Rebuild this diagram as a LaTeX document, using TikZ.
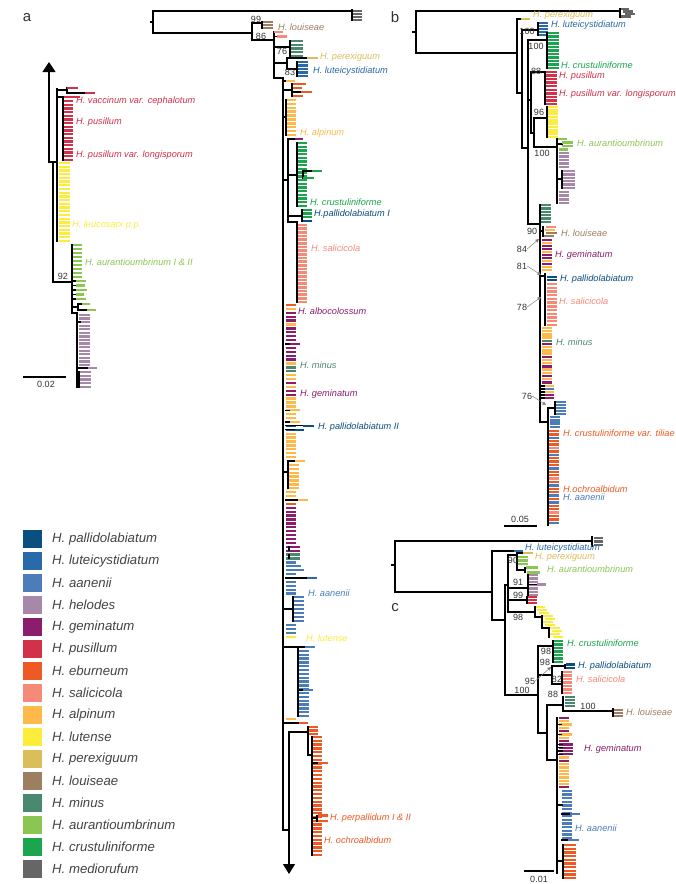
\documentclass[tikz,border=0pt]{standalone}
\usepackage{fontspec}
\setmainfont{Liberation Sans}
\usetikzlibrary{arrows.meta}
\definecolor{cpa}{HTML}{0B4F80}
\definecolor{clu}{HTML}{2A6AA8}
\definecolor{caa}{HTML}{4C7DB8}
\definecolor{che}{HTML}{A888A8}
\definecolor{cge}{HTML}{8A1E6C}
\definecolor{cpu}{HTML}{D3304A}
\definecolor{ceb}{HTML}{EE5A24}
\definecolor{csa}{HTML}{F58A78}
\definecolor{cal}{HTML}{FDB94A}
\definecolor{clt}{HTML}{FCEC3C}
\definecolor{cpe}{HTML}{DABE5C}
\definecolor{clo}{HTML}{9C7F60}
\definecolor{cmi}{HTML}{4A8870}
\definecolor{cau}{HTML}{8CC652}
\definecolor{ccr}{HTML}{1AA54E}
\definecolor{cme}{HTML}{666666}
\definecolor{cno}{HTML}{FFFFFF}
\definecolor{supc}{HTML}{333333}
\definecolor{legc}{HTML}{444444}
\newcommand\stk[6]{\foreach \k in {1,...,#6}{\pgfmathsetmacro\yy{#4+(\k-1)*(#5-#4)/(#6-1)}\draw[tip,draw=c#1] (#2,\yy) -- (#3,\yy);}}
\newcommand\mix[5]{\foreach \c [count=\k from 0] in {#5}{\pgfmathsetmacro\yy{#3+\k*#4}\draw[tip,draw=c\c] (#1,\yy) -- (#2,\yy);}}
\newcommand\tb[4]{\draw[tip,draw=c#1] (#2,#4) -- (#3,#4);}
\tikzset{
  br/.style={line width=1.1pt,black,line cap=rect,line join=miter},
  tip/.style={line width=2.35pt},
  lab/.style={font=\fontsize{9.2}{10}\selectfont\itshape,anchor=west,inner sep=0pt},
  sup/.style={font=\fontsize{9}{10}\selectfont,text=supc,inner sep=0pt},
  leg/.style={font=\fontsize{13.2}{15}\selectfont\itshape,anchor=west,text=legc,inner sep=0pt},
  plab/.style={font=\fontsize{15}{16}\selectfont,text=supc,inner sep=0pt},
  garr/.style={line width=0.5pt,gray,-{Triangle[length=3.5pt,width=3.5pt]}}
}
\begin{document}
\begin{tikzpicture}[x=1pt,y=-1pt]
\useasboundingbox (0,0) rectangle (676,884);
\fill[white] (0,0) rectangle (676,884);

% ================= panel a : main tree =================
\node[plab] (pa) at (27,18) {a};
\draw[br] (151,22) -- (153,22);
\draw[br] (352,11) -- (153,11) -- (153,33) -- (252,33);
\draw[br] (352,9.5) -- (352,20.5);
\stk{me}{353}{362}{11}{20}{4}
\draw[br] (252,23) -- (252,40);
\draw[br] (252,23) -- (262,23);
\draw[br] (262,21.5) -- (262,28.5);
\stk{lo}{263}{273}{22}{28}{3}
\draw[br] (252,40) -- (274,40);
\draw[br] (274,32) -- (274,78);
\tb{sa}{274}{283}{32}
\draw[br] (274,36.5) -- (277,36.5); \tb{sa}{277}{287}{36.5}
\draw[br] (274,47) -- (290,47);
\draw[br] (290,41) -- (290,56);
\stk{mi}{291}{303}{41}{56}{5}
\draw[br] (274,63) -- (287,63);
\draw[br] (287,58) -- (287,69);
\draw[br] (287,58) -- (307,58); \tb{pe}{307}{318}{58}
\draw[br] (287,69) -- (297,69);
\draw[br] (297,62) -- (297,76);
\stk{lu}{298}{308}{62}{76}{5}
\draw[br] (274,78) -- (283,78) -- (283,830) -- (289,830);
% alpinum / eburneum top
\draw[br] (283,81) -- (286,81); \tb{al}{286}{295}{81}
\draw[br] (283,90) -- (292,90);
\draw[br] (292,84) -- (292,96);
\tb{eb}{293}{306}{84} \tb{eb}{293}{302}{88}
\draw[br] (292,92) -- (301,92); \tb{eb}{301}{312}{92}
\tb{eb}{293}{303}{96}
\draw[br] (283,117) -- (286,117);
\draw[br] (286,100) -- (286,135);
\stk{al}{287}{296}{100}{135}{10}
% crustuliniforme clade
\draw[br] (283,180) -- (288,180);
\draw[br] (288,139) -- (288,222);
\draw[br] (288,139) -- (295,139); \tb{ge}{295}{303}{139}
\draw[br] (288,175) -- (297,175);
\draw[br] (297,143) -- (297,206);
\stk{cr}{298}{307}{143}{206}{18}
\draw[br] (303,171) -- (303,178);
\draw[br] (303,171) -- (312,171); \tb{cr}{312}{322}{171}
\tb{cr}{303}{314}{178}
\draw[br] (288,216) -- (302,216);
\draw[br] (302,210) -- (302,221);
\stk{cr}{303}{312}{210}{217}{3}
\tb{pa}{303}{312}{221}
\draw[br] (288,222) -- (297,222);
\draw[br] (297,222) -- (297,302);
\stk{sa}{298}{307}{225}{302}{22}
% long mixed stack
\mix{286}{296}{305}{3.9}{eb,al,ge,ge,ge,al,ge,ge,ge,ge,ge,ge,ge,ge,ge,al,mi,mi,al,al,ge,al,ge,ge,al,al,al,al,al,al,al,pa,pa,al,al,al,al,al,al,al,no,no,no,no,no,no,no,no,al,al,al,eb,ge,ge,ge,ge,ge,ge,ge,ge,ge,ge,ge,ge,mi,mi,aa,aa,aa,aa,aa,aa,aa,aa,aa}
\draw[br] (286,344) -- (290,344); \tb{ge}{290}{300}{344}
\draw[br] (286,410.3) -- (290,410.3); \tb{al}{290}{300}{410.3}
\draw[br] (286,422) -- (290,422); \tb{al}{290}{300}{422}
\draw[br] (286,425.9) -- (303,425.9); \tb{pa}{303}{314}{425.9}
\draw[br] (286,429.8) -- (295,429.8); \tb{pa}{295}{304}{429.8}
\draw[br] (283,472) -- (288,472);
\draw[br] (288,461) -- (288,488);
\draw[br] (288,461) -- (295,461); \tb{al}{295}{305}{461}
\stk{al}{289}{299}{464.9}{488.3}{7}
\draw[br] (286,500) -- (298,500); \tb{al}{298}{308}{500}
\draw[br] (289,546.8) -- (289,550.7);
\tb{ge}{290}{300}{546.8} \tb{ge}{290}{300}{550.7}
\draw[br] (289,554.6) -- (289,558.5);
\tb{mi}{290}{300}{554.6} \tb{mi}{290}{300}{558.5}
\tb{aa}{292}{301}{566.3} \tb{aa}{295}{304}{570.2}
\draw[br] (286,578) -- (307,578); \tb{lu}{307}{317}{578}
\draw[br] (283,609) -- (293,609);
\draw[br] (293,597) -- (293,621);
\stk{aa}{294}{304}{597}{621}{7}
\mix{286}{296}{625}{3.9}{aa,aa,aa,lt}
\draw[br] (283,647) -- (298,647);
\draw[br] (298,647) -- (298,716);
\stk{aa}{299}{309}{651}{716}{18}
\draw[br] (299,647) -- (305,647); \tb{aa}{305}{315}{647}
\draw[br] (299,690) -- (303,690); \tb{aa}{303}{313}{690}
\tb{al}{286}{296}{719}
\draw[br] (283,723) -- (299,723); \tb{eb}{299}{308}{723}
% eburneum clade and arrow
\draw[br,-{Triangle[width=12pt,length=10pt]}] (289,732) -- (289,874);
\draw[br] (289,732) -- (308,732);
\draw[br] (308,727) -- (308,755);
\stk{eb}{309}{318}{727}{734}{3}
\draw[br] (308,755) -- (312,755);
\draw[br] (312,737) -- (312,855);
\stk{eb}{313}{322}{737}{855}{32}
\draw[br] (313,763) -- (318,763); \tb{eb}{318}{328}{763}
\draw[br] (313,818) -- (317,818);
\draw[br] (317,815.5) -- (317,821);
\tb{eb}{318}{328}{815.5} \tb{eb}{318}{328}{821}
% labels main a
\node[lab,text=clo] (ta1) at (278,27) {H. louiseae};
\node[lab,text=cpe] (ta2) at (320,57) {H. perexiguum};
\node[lab,text=clu] (ta3) at (313,71) {H. luteicystidiatum};
\node[lab,text=cal] (ta4) at (300,133) {H. alpinum};
\node[lab,text=ccr] (ta5) at (310,202) {H. crustuliniforme};
\node[lab,text=cpa] (ta6) at (314,214) {H.pallidolabiatum I};
\node[lab,text=csa] (ta7) at (311,248) {H. salicicola};
\node[lab,text=cge] (ta8) at (298,311) {H. albocolossum};
\node[lab,text=cmi] (ta9) at (300,365) {H. minus};
\node[lab,text=cge] (ta10) at (300,394) {H. geminatum};
\node[lab,text=cpa] (ta11) at (318,427) {H. pallidolabiatum II};
\node[lab,text=caa] (ta12) at (308,593) {H. aanenii};
\node[lab,text=clt] (ta13) at (306,638) {H. lutense};
\node[lab,text=ceb] (ta14) at (330,818) {H. perpallidum I \& II};
\node[lab,text=ceb] (ta15) at (324,840) {H. ochroalbidum};
\node[sup] (sa1) at (256,19) {99};
\node[sup] (sa2) at (261,36) {86};
\node[sup] (sa3) at (282,51) {76};
\node[sup] (sa4) at (290,72) {83};

% ================= panel a : inset =================
\draw[br,-{Triangle[width=13pt,length=10pt]}] (49,162) -- (49,62);
\draw[br] (49,162) -- (57,162);
\draw[br] (53,162) -- (53,282) -- (72,282);
\draw[br] (57,89) -- (57,241);
\draw[br] (57,90) -- (67,90);
\draw[br] (67,88) -- (67,93);
\tb{pu}{67}{78}{88}
\draw[br] (67,93) -- (85,93); \tb{pu}{85}{95}{93}
\draw[br] (57,97) -- (63,97);
\draw[br] (63,97) -- (63,160);
\tb{pu}{64}{80}{97}
\stk{pu}{64}{73}{101}{160}{17}
\stk{lt}{59}{70}{163}{241}{22}
\draw[br] (72,245) -- (72,313);
\stk{au}{73}{82}{245}{277}{9}
\foreach \y/\x in {281/86,285.5/85,290/87,294.5/84,299/86}{\draw[br] (72,\y) -- (76,\y); \tb{au}{76}{\x}{\y}}
\draw[br] (72,307) -- (78,307);
\draw[br] (78,304) -- (78,310);
\draw[br] (78,304) -- (82,304); \tb{au}{82}{90}{304}
\draw[br] (78,310) -- (87,310); \tb{au}{87}{96}{310}
\draw[br] (72,313) -- (77,313);
\draw[br] (77,313) -- (77,387);
\stk{he}{79}{90}{315}{365}{15}
\draw[br] (77,322) -- (80,322);
\draw[br] (77,368) -- (88,368); \tb{he}{88}{97}{368}
\draw[br] (77,372) -- (79,372);
\draw[br] (79,372) -- (79,387);
\stk{he}{80}{91}{372}{387}{5}
\node[lab,text=cpu] (tl1) at (76,101) {H. vaccinum var. cephalotum};
\node[lab,text=cpu] (tl2) at (76,122) {H. pusillum};
\node[lab,text=cpu] (tl3) at (76,155) {H. pusillum var. longisporum};
\node[lab,text=clt] (tl4) at (72,225) {H. leucosarx p.p.};
\node[lab,text=cau] (tl5) at (85,262) {H. aurantioumbrinum I \& II};
\node[sup] (sl1) at (63,276) {92};
\draw[br] (24,377) -- (65,377);
\node[sup] (scA) at (46,384) {0.02};

% ================= legend =================
\foreach \c/\t [count=\i from 0] in {pa/pallidolabiatum,lu/luteicystidiatum,aa/aanenii,he/helodes,ge/geminatum,pu/pusillum,eb/eburneum,sa/salicicola,al/alpinum,lt/lutense,pe/perexiguum,lo/louiseae,mi/minus,au/aurantioumbrinum,cr/crustuliniforme,me/mediorufum}{
  \pgfmathsetmacro\ya{530+22*\i}
  \pgfmathsetmacro\yb{548+22*\i}
  \pgfmathsetmacro\yc{539+22*\i}
  \fill[c\c] (23,\ya) rectangle (42,\yb);
  \node[leg] (lg\i) at (52,\yc) {H. \t};
}

% ================= panel b =================
\node[plab] (pb) at (395,17) {b};
\draw[br] (413,32) -- (416,32);
\draw[br] (620,11) -- (416,11) -- (416,53) -- (517,53);
\draw[br] (620,9) -- (620,17);
\tb{me}{621}{629}{9} \tb{me}{623}{633}{11.5} \tb{me}{625}{635}{14} \tb{me}{621}{631}{16.5}
\draw[br] (517,19) -- (517,93);
\draw[br] (517,19) -- (521,19); \tb{pe}{521}{530}{19}
\draw[br] (517,93) -- (522,93);
\draw[br] (522,30) -- (522,148);
\draw[br] (522,30) -- (538,30);
\draw[br] (538,23) -- (538,35);
\stk{lu}{539}{548}{23}{35}{5}
\draw[br] (522,148) -- (528,148);
\draw[br] (528,40) -- (528,224);
\draw[br] (528,40) -- (547,40);
\draw[br] (547,33) -- (547,68);
\stk{cr}{548}{559}{33}{68}{11}
\draw[br] (528,100) -- (531,100);
\draw[br] (531,72) -- (531,133);
\draw[br] (531,72) -- (545,72);
\draw[br] (545,72) -- (545,104);
\stk{pu}{546}{557}{72}{104}{10}
\draw[br] (531,133) -- (534,133);
\draw[br] (534,118) -- (534,147);
\draw[br] (534,118) -- (547,118);
\draw[br] (547,107) -- (547,137);
\stk{lt}{548}{558}{107}{137}{10}
\draw[br] (534,147) -- (557,147);
\draw[br] (557,139) -- (557,203);
\draw[br] (557,144) -- (562,144);
\tb{au}{558}{567}{139} \tb{au}{562}{573}{142.5} \tb{au}{562}{573}{146} \tb{au}{559}{568}{149.5}
\stk{he}{559}{569}{153}{167}{5}
\draw[br] (557,179) -- (562,179);
\draw[br] (562,171) -- (562,188);
\stk{he}{563}{575}{171}{188}{6}
\stk{he}{559}{569}{192}{203}{4}
\draw[br] (528,224) -- (540,224);
\draw[br] (540,205) -- (540,422);
\stk{mi}{541}{551}{205}{222}{6}
\draw[br] (540,231) -- (543,231);
\draw[br] (543,227) -- (543,236);
\tb{sa}{546}{556}{227} \tb{al}{545}{555}{230} \tb{lo}{546}{557}{233} \tb{lo}{544}{554}{236}
\mix{542}{552}{240}{3}{ge,al,ge,ge,al,ge,ge,al,ge,al,al}
\draw[br] (540,276) -- (545,276);
\draw[br] (545,274) -- (545,325);
\tb{pa}{547}{557}{277} \tb{pa}{547}{557}{280.3}
\stk{sa}{547}{557}{284}{325}{12}
\mix{542}{552}{328}{3.2}{al,al,al,al,mi,ge,al,al,al,ge,al,al,ge,al,al,ge,al,ge}
\foreach \y/\c in {386/al,389/aa,392/al,395/ge,398/ge}{\draw[br] (540,\y) -- (545,\y); \draw[tip,draw=c\c] (545,\y) -- (554,\y);}
\draw[br] (540,422) -- (548,422);
\draw[br] (548,408) -- (548,525);
\draw[br] (548,408) -- (555,408);
\draw[br] (555,402) -- (555,414);
\stk{aa}{556}{566}{402}{414}{5}
\stk{aa}{550}{560}{417}{427}{4}
\mix{549}{559}{431}{3.4}{eb,eb,aa,eb,eb,sa,eb,aa,eb,eb,eb,aa,eb,eb,sa,eb,aa,eb,eb,aa,eb,aa,eb,eb,sa,eb,eb,aa}
\node[lab,text=cpe] (tb1) at (533,15) {H. perexiguum};
\node[lab,text=clu] (tb2) at (551,25) {H. luteicystidiatum};
\node[lab,text=ccr] (tb3) at (561,65) {H. crustuliniforme};
\node[lab,text=cpu] (tb4) at (559,76) {H. pusillum};
\node[lab,text=cpu] (tb5) at (559,94) {H. pusillum var. longisporum};
\node[lab,text=cau] (tb6) at (577,143) {H. aurantioumbrinum};
\node[lab,text=clo] (tb7) at (561,233) {H. louiseae};
\node[lab,text=cge] (tb8) at (555,255) {H. geminatum};
\node[lab,text=cpa] (tb9) at (560,279) {H. pallidolabiatum};
\node[lab,text=csa] (tb10) at (559,301) {H. salicicola};
\node[lab,text=cmi] (tb11) at (556,342) {H. minus};
\node[lab,text=ceb] (tb12) at (563,433) {H. crustuliniforme var. tiliae};
\node[lab,text=ceb] (tb13) at (563,489) {H.ochroalbidum};
\node[lab,text=caa] (tb14) at (563,497) {H. aanenii};
\node[sup] (sb1) at (527,31) {100};
\node[sup] (sb2) at (536,46) {100};
\node[sup] (sb3) at (536,71) {88};
\node[sup] (sb4) at (539,112) {96};
\node[sup] (sb5) at (542,153) {100};
\node[sup] (sb6) at (532,231) {90};
\node[sup] (sb7) at (522,249) {84};
\node[sup] (sb8) at (522,266) {81};
\node[sup] (sb9) at (522,307) {78};
\node[sup] (sb10) at (527,396) {76};
\draw[garr] (sb7.east) -- (539,239);
\draw[garr] (sb8.east) -- (541,275);
\draw[garr] (sb9.east) -- (541,297);
\draw[garr] (sb10.east) -- (546,405);
\draw[br] (505,526) -- (536,526);
\node[sup] (scB) at (520,519) {0.05};

% ================= panel c =================
\node[plab] (pc) at (395,608) {c};
\draw[br] (392,565) -- (395,565);
\draw[br] (592,541) -- (395,541) -- (395,592) -- (492,592);
\draw[br] (592,537) -- (592,546);
\stk{me}{594}{603}{538}{545}{3}
\draw[br] (492,551) -- (492,620);
\draw[br] (492,551) -- (514,551); \tb{lu}{514}{523}{551}
\draw[br] (492,620) -- (505,620);
\draw[br] (505,585) -- (505,695);
\draw[br] (505,585) -- (508,585);
\draw[br] (508,555) -- (508,612);
\draw[br] (508,555) -- (517,555);
\draw[br] (517,553) -- (517,570);
\draw[br] (517,553) -- (523,553); \tb{pe}{523}{533}{553}
\tb{au}{518}{528}{557} \tb{au}{518}{528}{560.5} \tb{au}{518}{528}{564}
\draw[br] (517,570) -- (525,570);
\draw[br] (525,567.5) -- (525,572.5);
\tb{au}{526}{538}{567.5} \tb{au}{527}{540}{572.5}
\draw[br] (508,588) -- (528,588);
\draw[br] (528,575) -- (528,595);
\stk{he}{529}{538}{575}{595}{7}
\draw[br] (529,584.5) -- (537,584.5); \tb{he}{537}{546}{584.5}
\draw[br] (508,600) -- (527,600);
\draw[br] (527,597) -- (527,603);
\stk{pu}{528}{537}{597}{603}{3}
\draw[br] (508,612) -- (535,612);
\draw[br] (535,607) -- (535,617);
\tb{lt}{536}{545}{607} \tb{lt}{537}{547}{610} \tb{lt}{539}{549}{613}
\draw[br] (535,617) -- (542,617);
\draw[br] (542,616) -- (542,628);
\tb{lt}{543}{553}{616} \tb{lt}{545}{555}{619} \tb{lt}{543}{553}{622} \tb{lt}{545}{555}{625}
\draw[br] (542,628) -- (549,628);
\draw[br] (549,628) -- (549,637);
\tb{lt}{550}{560}{628} \tb{lt}{552}{562}{631} \tb{lt}{550}{560}{634} \tb{lt}{553}{563}{637}
\draw[br] (505,695) -- (538,695);
\draw[br] (538,646) -- (538,733);
\draw[br] (538,646) -- (553,646);
\draw[br] (553,641) -- (553,662);
\stk{cr}{554}{563}{641}{662}{7}
\draw[br] (538,675) -- (552,675);
\draw[br] (552,666) -- (552,684);
\draw[br] (552,666) -- (565,666);
\draw[br] (565,664.5) -- (565,668);
\tb{pa}{566}{575}{664.5} \tb{pa}{566}{575}{668}
\draw[br] (552,684) -- (562,684);
\draw[br] (562,672) -- (562,693);
\stk{sa}{563}{572}{672}{693}{7}
\draw[br] (538,733) -- (547,733);
\draw[br] (547,705) -- (547,760);
\draw[br] (547,705) -- (563,705);
\draw[br] (563,697) -- (563,711);
\stk{mi}{565}{575}{697}{706}{4}
\draw[br] (563,711) -- (613,711);
\draw[br] (613,709) -- (613,716);
\stk{lo}{614}{623}{710}{716}{3}
\draw[br] (547,760) -- (557,760);
\draw[br] (557,718) -- (557,873);
\mix{559}{569}{718}{3.3}{ge,al,al,al,ge,al,al,ge,ge,ge,ge,ge,al,ge,al,al,al,al,al,al,al,ge}
\foreach \y in {744.4,747.7,751,754.3}{\draw[br] (557,\y) -- (563,\y); \tb{ge}{563}{573}{\y}}
\foreach \y in {724.6,734.5}{\draw[br] (557,\y) -- (562,\y); \tb{al}{562}{572}{\y}}
\stk{aa}{562}{572}{791}{838}{14}
\draw[br] (557,805) -- (562,805);
\draw[br] (562,814) -- (570,814); \tb{aa}{570}{580}{814}
\draw[br] (562,840) -- (568,840); \tb{aa}{568}{579}{840}
\draw[br] (557,861) -- (563,861);
\draw[br] (563,845) -- (563,878);
\stk{eb}{564}{576}{845}{878}{10}
\node[lab,text=clu] (tc1) at (525,548) {H. luteicystidiatum};
\node[lab,text=cpe] (tc2) at (535,557) {H. perexiguum};
\node[lab,text=cau] (tc3) at (547,569) {H. aurantioumbrinum};
\node[lab,text=ccr] (tc4) at (567,643) {H. crustuliniforme};
\node[lab,text=cpa] (tc5) at (578,666) {H. pallidolabiatum};
\node[lab,text=csa] (tc6) at (576,679) {H. salicicola};
\node[lab,text=clo] (tc7) at (626,712) {H. louiseae};
\node[lab,text=cge] (tc8) at (584,749) {H. geminatum};
\node[lab,text=caa] (tc9) at (575,828) {H. aanenii};
\node[sup] (sc1) at (513,560) {90};
\node[sup] (sc2) at (518,582) {91};
\node[sup] (sc3) at (518,595) {99};
\node[sup] (sc4) at (518,617) {98};
\node[sup] (sc5) at (546,651) {98};
\node[sup] (sc6) at (545,662) {98};
\node[sup] (sc7) at (530,681) {95};
\node[sup] (sc8) at (557,679) {82};
\node[sup] (sc9) at (522,690) {100};
\node[sup] (sc10) at (553,694) {88};
\node[sup] (sc11) at (588,706) {100};
\draw[garr] (sc7.east) -- (551,667);
\draw[br] (525,871) -- (553,871);
\node[sup] (scC) at (539,879) {0.01};
\end{tikzpicture}
\end{document}
